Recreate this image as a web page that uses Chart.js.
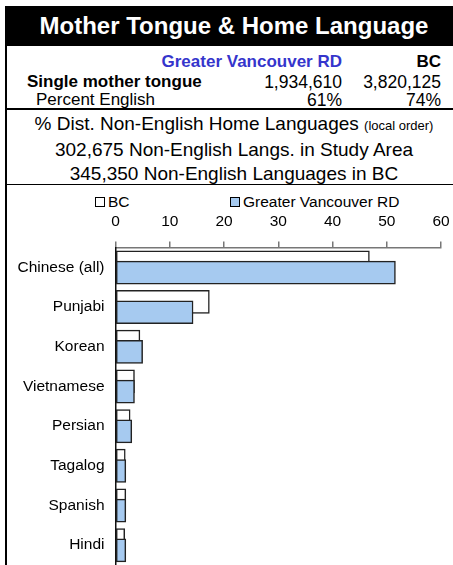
<!DOCTYPE html>
<html>
<head>
<meta charset="utf-8">
<script src="https://cdn.jsdelivr.net/npm/chart.js@4"></script>
<style>
  body { margin: 0; background: #fff; font-family: "Liberation Sans", Arial, sans-serif; }
  #page { position: relative; width: 453px; height: 565px; overflow: hidden; }
  .abs { position: absolute; white-space: nowrap; color: #000; }
  .r { text-align: right; }
  #titulo { left: 5px; top: 6px; width: 458px; height: 40px; background: #000; color: #fff;
            font-weight: bold; font-size: 24px; line-height: 40px; text-align: center; }
  #bordeIzq { left: 5px; top: 46px; width: 2px; height: 530px; background: #000; }
  .linea { left: 5px; width: 460px; height: 1.5px; background: #000; }
  .centro { left: 5px; width: 458px; text-align: center; font-size: 19px; line-height: 24px; }
  .leg { font-size: 15.5px; line-height: 18px; top: 193px; }
  .caja { display: inline-block; width: 8px; height: 8px; border: 1px solid #000; margin-right: 3px; vertical-align: 0px; }
  #grafico { position: absolute; left: 7px; top: 185px; }
</style>
</head>
<body>
<div id="page">
  <div class="abs" id="titulo">Mother Tongue &amp; Home Language</div>
  <div class="abs" id="bordeIzq"></div>

  <div class="abs r" style="right:111px;top:51.5px;font-size:17px;line-height:20px;font-weight:bold;color:#3535cc;">Greater Vancouver RD</div>
  <div class="abs r" style="right:12px;top:51.5px;font-size:17px;line-height:20px;font-weight:bold;">BC</div>

  <div class="abs" style="left:27px;top:71.5px;font-size:17px;line-height:20px;font-weight:bold;">Single mother tongue</div>
  <div class="abs r" style="right:111px;top:71.5px;font-size:17.5px;line-height:20px;">1,934,610</div>
  <div class="abs r" style="right:12px;top:71.5px;font-size:17.5px;line-height:20px;">3,820,125</div>

  <div class="abs" style="left:36px;top:89.5px;font-size:17px;line-height:20px;">Percent English</div>
  <div class="abs r" style="right:111px;top:89.5px;font-size:17.5px;line-height:20px;">61%</div>
  <div class="abs r" style="right:12px;top:89.5px;font-size:17.5px;line-height:20px;">74%</div>

  <div class="abs linea" style="top:108px;"></div>
  <div class="abs centro" style="top:112px;">% Dist. Non-English Home Languages <span style="font-size:13px;">(local order)</span></div>
  <div class="abs centro" style="top:138px;">302,675 Non-English Langs. in Study Area</div>
  <div class="abs centro" style="top:162px;">345,350 Non-English Languages in BC</div>
  <div class="abs linea" style="top:183.5px;"></div>

  <div class="abs leg" id="legBC" style="left:95px;"></div>
  <div class="abs leg" id="legGV" style="left:230px;"></div>

  <canvas id="grafico" width="446" height="380"></canvas>
</div>

<script>
const idiomas = ['Chinese (all)', 'Punjabi', 'Korean', 'Vietnamese', 'Persian', 'Tagalog', 'Spanish', 'Hindi'];
const valoresBC = [46.8, 17.3, 4.5, 3.5, 2.7, 1.8, 1.9, 1.7];
const valoresGV = [51.6, 14.3, 5.0, 3.5, 3.0, 1.9, 1.9, 1.9];
const ticksX = [0, 10, 20, 30, 40, 50, 60];

const desplazamiento = 0.13; // las barras se superponen como en Excel
const fuente = { family: '"Liberation Sans", Arial, sans-serif', size: 15.5 };

const datosBC = valoresBC.map((v, i) => ({ x: v, y: i - desplazamiento }));
const datosGV = valoresGV.map((v, i) => ({ x: v, y: i + desplazamiento }));

const ctx = document.getElementById('grafico');
const myChart = new Chart(ctx, {
  type: 'bar',
  data: {
    datasets: [
      {
        label: 'BC',
        data: datosBC,
        backgroundColor: '#ffffff',
        borderColor: '#222222',
        borderWidth: 1.5,
        borderSkipped: false,
        order: 1
      },
      {
        label: 'Greater Vancouver RD',
        data: datosGV,
        backgroundColor: '#a6caf0',
        borderColor: '#222222',
        borderWidth: 1.5,
        borderSkipped: false,
        order: 0
      }
    ]
  },
  options: {
    indexAxis: 'y',
    responsive: false,
    animation: false,
    grouped: false,
    barThickness: 23,
    layout: { padding: { left: 0, right: 12, top: 0, bottom: 0 } },
    plugins: {
      legend: { display: false },
      tooltip: { enabled: false }
    },
    scales: {
      x: {
        position: 'top',
        min: 0,
        max: 60,
        afterBuildTicks: s => { s.ticks = ticksX.map(v => ({ value: v })); },
        afterFit: s => { s.height = 62.6; s.paddingLeft = 0; s.paddingRight = 0; },
        grid: { display: true, drawOnChartArea: false, drawTicks: true, tickLength: 6, color: '#777777', lineWidth: 1.5 },
        border: { display: true, color: '#777777', width: 1.5 },
        ticks: { color: '#000', font: fuente, padding: 11, maxRotation: 0 }
      },
      y: {
        type: 'linear',
        offset: false,
        reverse: true,
        min: -0.5,
        max: idiomas.length - 0.5,
        afterBuildTicks: s => { s.ticks = idiomas.map((_, i) => ({ value: i })); },
        afterFit: s => { s.width = 108.5; s.paddingTop = 0; s.paddingBottom = 0; },
        grid: { display: false, drawTicks: false },
        border: { display: true, color: '#111111', width: 1.5 },
        ticks: { color: '#000', font: fuente, padding: 11, callback: v => idiomas[v] }
      }
    }
  }
});

// leyenda en html, como en la planilla original
[['legBC', 0], ['legGV', 1]].forEach(([id, i]) => {
  const ds = myChart.data.datasets[i];
  document.getElementById(id).innerHTML =
    '<span class="caja" style="background:' + ds.backgroundColor + '"></span>' + ds.label;
});
</script>
</body>
</html>
